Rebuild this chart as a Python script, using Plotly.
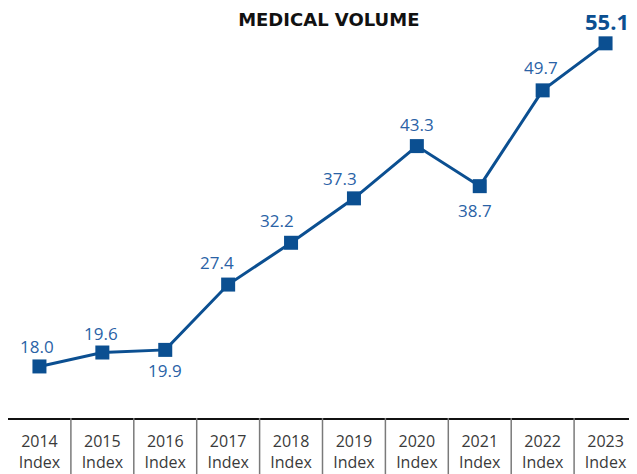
import plotly.graph_objects as go

categories = ["2014", "2015", "2016", "2017", "2018", "2019", "2020", "2021", "2022", "2023"]
tick_labels = [c + "<br>Index" for c in categories]
values = [18.0, 19.6, 19.9, 27.4, 32.2, 37.3, 43.3, 38.7, 49.7, 55.1]

# label styling offsets (pixels), not data
label_dx = [-2, -1, 0, -11, -14, -14, 0, -5, -2, 1]
label_dy = [20, 19, -21, 22, 22, 20, 22, -24, 23, 22]

BLUE = "#0B4F91"
LBLUE = "#2A62A6"
FONT = "Open Sans, sans-serif"

fig = go.Figure()
fig.add_trace(go.Scatter(
    x=list(range(len(categories))), y=values, mode="lines+markers",
    line=dict(color=BLUE, width=3),
    marker=dict(symbol="square", size=14, color=BLUE),
    hoverinfo="skip", showlegend=False,
))

n = len(categories)
for i, v in enumerate(values):
    last = i == n - 1
    fig.add_annotation(
        x=i, y=v, text=(f"<b>{v:.1f}</b>" if last else f"{v:.1f}"),
        showarrow=False, xshift=label_dx[i], yshift=label_dy[i],
        font=dict(family=FONT, size=22 if last else 17,
                  color=BLUE if last else LBLUE),
    )

# separators between categories below the baseline
for k in range(1, n):
    fig.add_shape(type="line", xref="paper", yref="paper",
                  x0=k / n, x1=k / n, y0=0, y1=-0.2,
                  line=dict(color="#7a7a7a", width=1.5))

fig.update_layout(
    width=629, height=466,
    margin=dict(l=0, r=0, t=22, b=56),
    paper_bgcolor="white", plot_bgcolor="white",
    title=dict(text="<b>MEDICAL VOLUME</b>", x=0.51, xanchor="center", y=0.975, yanchor="middle",
               font=dict(family="DejaVu Sans, sans-serif", size=18, color="#111111")),
    xaxis=dict(range=[-0.5, n - 0.5], tickmode="array", tickvals=list(range(n)),
               ticktext=tick_labels, showgrid=False, zeroline=False,
               showline=True, linecolor="#111111", linewidth=1.5,
               ticks="", fixedrange=True, ticklabelstandoff=8,
               tickfont=dict(family=FONT, size=16, color="#3a3a3a")),
    yaxis=dict(range=[12.08, 56.63], visible=False, fixedrange=True),
)

fig.write_html("out.html")
